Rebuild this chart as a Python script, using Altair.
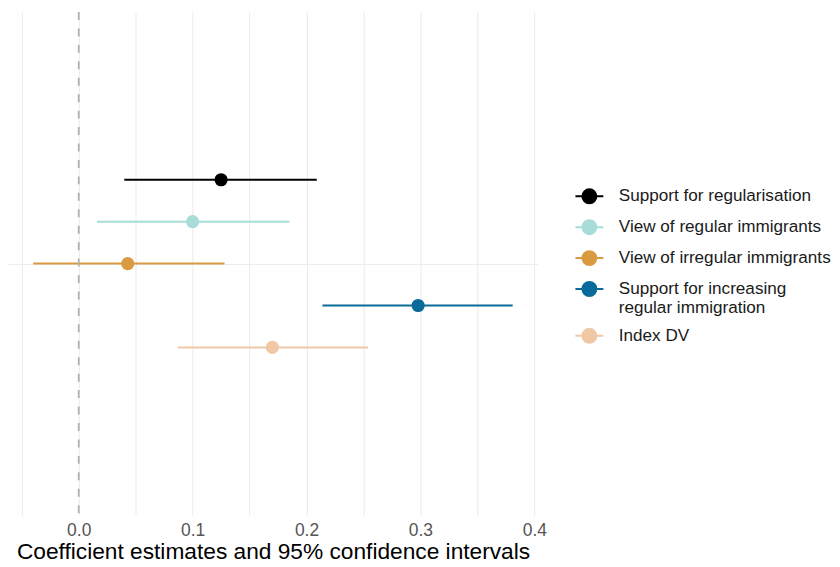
import altair as alt
import pandas as pd

series = [
    "Support for regularisation",
    "View of regular immigrants",
    "View of irregular immigrants",
    "Support for increasing\n\u00a0regular immigration",
    "Index DV",
]
estimate = [0.125, 0.100, 0.043, 0.298, 0.170]
lower = [0.040, 0.016, -0.040, 0.214, 0.087]
upper = [0.209, 0.185, 0.128, 0.381, 0.254]
dodge = [2, 1, 0, -1, -2]
colors = ["#000000", "#a8dcd9", "#d99a41", "#0a6a9a", "#f0c8a6"]

grid_ticks = [-0.05, 0.0, 0.05, 0.1, 0.15, 0.2, 0.25, 0.3, 0.35, 0.4]
zero_line = [0.0]

df = pd.DataFrame({"model": series, "est": estimate, "lo": lower,
                   "hi": upper, "pos": dodge})

FONT = "Liberation Sans"
xscale = alt.Scale(domain=[-0.0621, 0.4033], nice=False, zero=False)
yscale = alt.Scale(domain=[-6.0, 6.0], nice=False, zero=False)

color_enc = alt.Color(
    "model:N",
    scale=alt.Scale(domain=series, range=colors),
    sort=series,
    title=None,
    legend=alt.Legend(
        orient="none", legendX=564.5, legendY=166,
        symbolType="M-0.778,0H0.778M0.389,0A0.389,0.389,0,1,1,-0.389,0A0.389,0.389,0,1,1,0.389,0Z",
        symbolSize=1296, symbolStrokeWidth=2, symbolOpacity=1,
        labelFont=FONT, labelFontSize=17.2, labelColor="#1a1a1a",
        labelExpr="split(datum.label, '\\n')",
        labelOffset=10.5, rowPadding=-1.0, padding=0, labelLimit=400,
    ),
)

base = alt.Chart(df)

zero = alt.Chart(pd.DataFrame({"x": zero_line})).mark_rule(
    color="#b0b0b0", strokeWidth=1.8, strokeDash=[8, 8.5]
).encode(x=alt.X("x:Q", scale=xscale))

bars = base.mark_rule(strokeWidth=2).encode(
    x=alt.X("lo:Q", scale=xscale,
            axis=alt.Axis(values=grid_ticks, grid=True, gridColor="#ebebeb",
                          gridWidth=1, domain=False, ticks=False,
                          labelExpr="abs(datum.value*10 - round(datum.value*10)) < 0.001 ? format(datum.value, '.1f') : ''",
                          labelFont=FONT, labelFontSize=17.5, labelColor="#555555",
                          labelPadding=6,
                          title="Coefficient estimates and 95% confidence intervals",
                          titleFont=FONT, titleFontSize=22.8, titleFontWeight="normal",
                          titleColor="#000000", titlePadding=2)),
    x2="hi:Q",
    y=alt.Y("pos:Q", scale=yscale,
            axis=alt.Axis(values=[0], grid=True, gridColor="#ebebeb", gridWidth=1,
                          labels=False, ticks=False, domain=False, title=None)),
    color=color_enc,
)

points = base.mark_circle(size=175, opacity=1).encode(
    x=alt.X("est:Q", scale=xscale),
    y=alt.Y("pos:Q", scale=yscale),
    color=color_enc,
)

chart = alt.layer(bars, zero, points).properties(
    width=532, height=505,
    padding={"left": 0, "top": 2, "right": 0, "bottom": 0},
).configure(background="white", view=alt.ViewConfig(stroke=None))

chart.save("out.html", embed_options={"renderer": "svg", "actions": False})
